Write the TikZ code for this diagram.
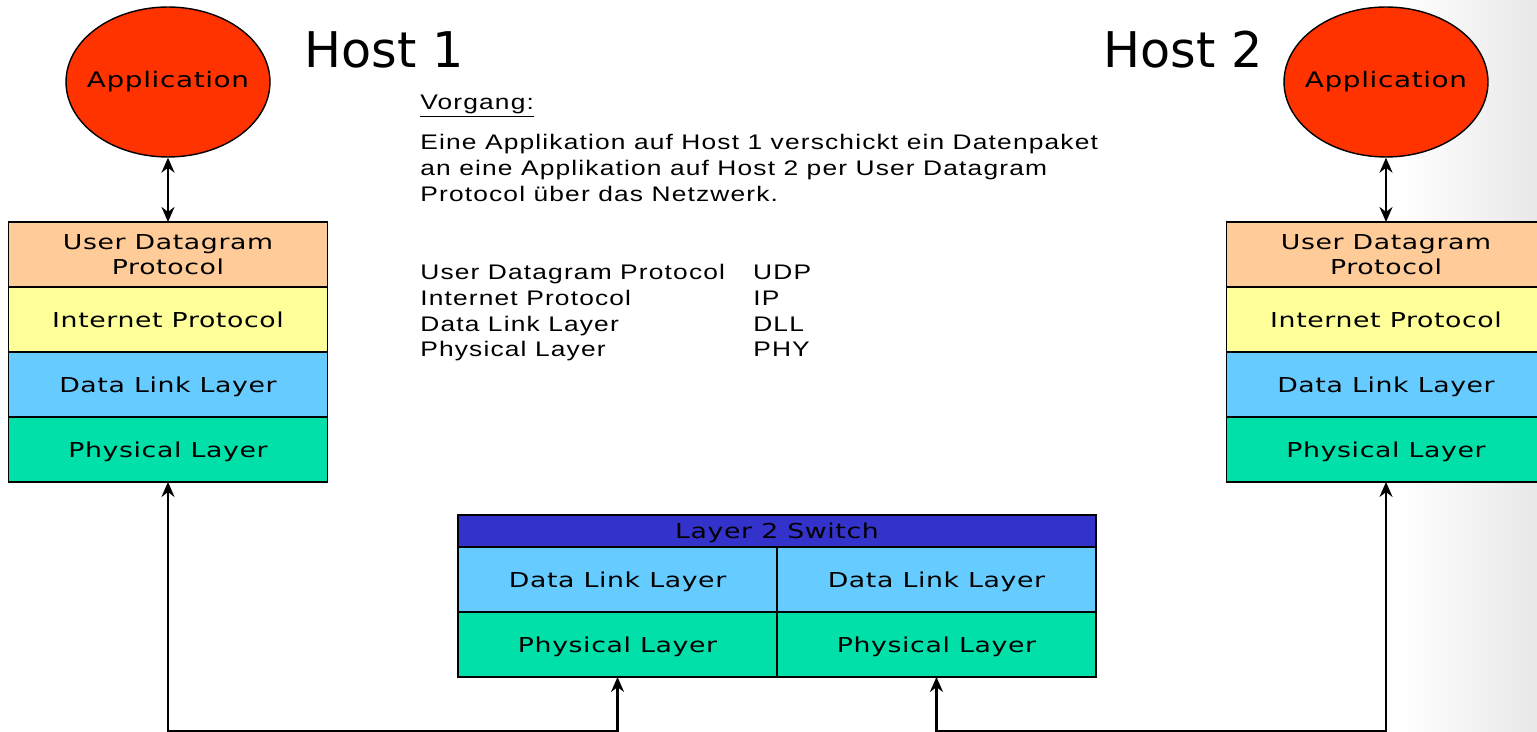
\documentclass[tikz,border=0pt]{standalone}
\usepackage{fontspec}
\setmainfont{DejaVu Sans}[FakeStretch=1.3,LetterSpace=3]
\newfontfamily\hostfont{DejaVu Sans}
\newfontfamily\txtfont{Liberation Sans}[FakeStretch=1.25,LetterSpace=5.5]
\usepackage{tikz}
\usetikzlibrary{arrows,arrows.meta,%
                shapes,positioning}

\definecolor{appred}{RGB}{255,51,0}
\definecolor{udpcol}{RGB}{255,204,153}
\definecolor{ipcol}{RGB}{255,255,153}
\definecolor{dllcol}{RGB}{102,204,255}
\definecolor{phycol}{RGB}{0,224,168}
\definecolor{swcol}{RGB}{51,51,204}

\begin{document}
\begin{tikzpicture}[x=0.02cm,y=-0.02cm,
  layer/.style={draw,line width=0.8pt,minimum width=6.38cm,minimum height=1.3cm,
    inner sep=0pt,outer sep=0pt,align=center,text depth=0pt,
    font=\fontsize{11.7}{14.2}\selectfont},
  app/.style={ellipse,draw,line width=0.8pt,fill=appred,inner sep=0pt,
    minimum width=4.08cm,minimum height=3cm,font=\fontsize{12.2}{14}\selectfont},
  host/.style={font=\hostfont\fontsize{28}{30}\selectfont},
  link/.style={line width=1.2pt,{Stealth[length=3mm,width=2.6mm]}-{Stealth[length=3mm,width=2.6mm]}}]
\useasboundingbox (0,0) rectangle (1537,732);
\shade[left color=white,right color=black!9] (1400,0) rectangle (1537,732);

\node[app] (appA) at (168,82) {\makebox[0pt]{Application}};
\node[app] (appB) at (1386,82) {\makebox[0pt]{Application}};
\node[host] (hostA) at (384,50) {Host 1};
\node[host] (hostB) at (1183,50) {Host 2};

\node[layer,fill=udpcol] (udpA) at (168,254.5) {User Datagram\\Protocol};
\node[layer,fill=ipcol,below=0pt of udpA] (ipA) {Internet Protocol};
\node[layer,fill=dllcol,below=0pt of ipA] (dllA) {Data Link Layer};
\node[layer,fill=phycol,below=0pt of dllA] (phyA) {Physical Layer};

\node[layer,fill=udpcol] (udpB) at (1386,254.5) {User Datagram\\Protocol};
\node[layer,fill=ipcol,below=0pt of udpB] (ipB) {Internet Protocol};
\node[layer,fill=dllcol,below=0pt of ipB] (dllB) {Data Link Layer};
\node[layer,fill=phycol,below=0pt of dllB] (phyB) {Physical Layer};

\node[layer,fill=swcol,minimum width=12.76cm,minimum height=0.64cm] (sw) at (777,531) {Layer 2 Switch};
\node[layer,fill=dllcol,anchor=north west] (dllS1) at (sw.south west) {Data Link Layer};
\node[layer,fill=dllcol,right=0pt of dllS1] (dllS2) {Data Link Layer};
\node[layer,fill=phycol,below=0pt of dllS1] (phyS1) {Physical Layer};
\node[layer,fill=phycol,below=0pt of dllS2] (phyS2) {Physical Layer};

\node[anchor=north west,inner sep=0pt,align=left,font=\txtfont\fontsize{12}{14.7}\selectfont] (info) at (420,95)
  {\underline{Vorgang:}\\[8pt]
   Eine Applikation auf Host 1 verschickt ein Datenpaket\\
   an eine Applikation auf Host 2 per User Datagram\\
   Protocol \"uber das Netzwerk.};
\node[anchor=north west,inner sep=0pt,font=\txtfont\fontsize{12}{14.7}\selectfont] (abbr) at (420,261)
  {\begin{tabular}{@{}p{6.66cm}@{}l@{}}
   User Datagram Protocol & UDP\\
   Internet Protocol & IP\\
   Data Link Layer & DLL\\
   Physical Layer & PHY
   \end{tabular}};

\coordinate (botA) at (168,731);
\coordinate (botB) at (1386,731);
\draw[link] (appA) -- (udpA);
\draw[link] (appB) -- (udpB);
\draw[link] (phyA) -- (botA) -| (phyS1);
\draw[link] (phyB) -- (botB) -| (phyS2);
\end{tikzpicture}
\end{document}
